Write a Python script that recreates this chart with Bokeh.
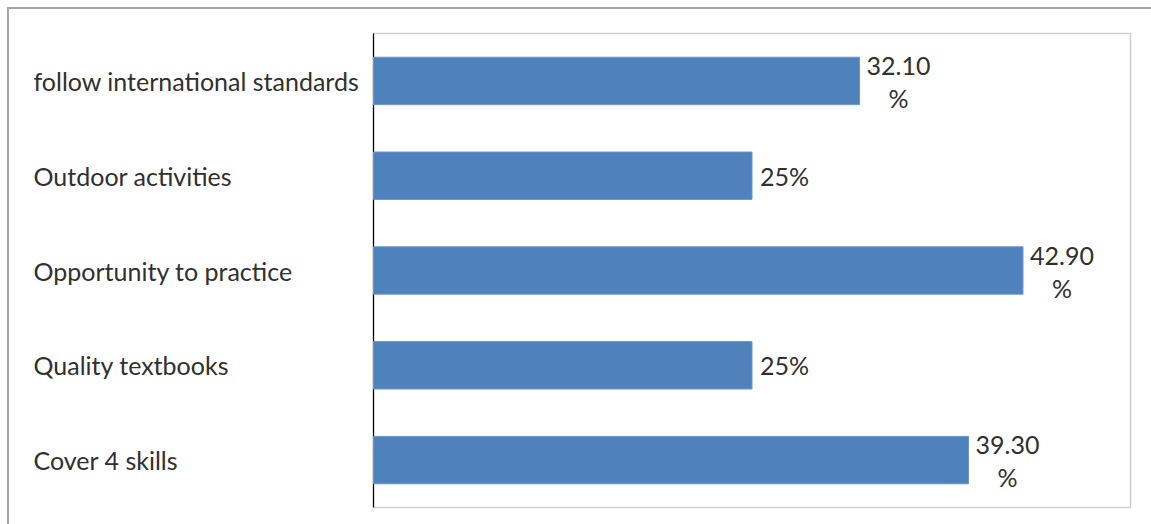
from bokeh.plotting import figure
from bokeh.models import ColumnDataSource, LabelSet, Range1d
from bokeh.core.properties import value
from bokeh.embed import file_html
from bokeh.resources import INLINE

categories = ["follow international standards", "Outdoor activities",
              "Opportunity to practice", "Quality textbooks", "Cover 4 skills"]
values = [32.1, 25.0, 42.9, 25.0, 39.3]
value_labels = ["32.10\n%", "25%", "42.90\n%", "25%", "39.30\n%"]

XMAX = 50.0
FONT = "Lato"
FS = "25px"
TXT = "#303030"

# layout (pixels)
PLOT_W = 757          # width of the value area
PLOT_H = 474          # height of the value area
LEFT_W = 364          # space for category labels, left of the value axis
LABEL_PAD = 340       # category labels start this far left of the axis
PAD = 2               # extra frame pixels so the plot-area border is not clipped

n = len(categories)
ypos = [n - 1 - i for i in range(n)]
ylo, yhi = -0.5, n - 0.5
ux = XMAX / PLOT_W
uy = (yhi - ylo) / PLOT_H
xlo = -LEFT_W * ux

p = figure(frame_width=PLOT_W + LEFT_W + PAD, frame_height=PLOT_H + 2 * PAD,
           output_backend="svg", toolbar_location=None,
           x_range=Range1d(xlo, XMAX + PAD * ux),
           y_range=Range1d(ylo - PAD * uy, yhi + PAD * uy),
           min_border_left=0, min_border_right=21 - PAD,
           min_border_top=24 - PAD, min_border_bottom=17 - PAD,
           margin=(7, 0, 0, 7),
           styles={"border-top": "2px solid #a6a6a6", "border-left": "2px solid #a6a6a6"})
p.background_fill_color = "white"
p.border_fill_color = "white"
p.outline_line_color = None
p.xgrid.visible = False
p.ygrid.visible = False
p.xaxis.visible = False
p.yaxis.visible = False

# plot-area frame and value axis line
p.quad(left=[0], right=[XMAX], bottom=[ylo], top=[yhi], fill_color=None,
       line_color="#d0d0d0", line_width=1.5)
p.segment(x0=[0], y0=[ylo], x1=[0], y1=[yhi], line_color="black", line_width=1.2)

src = ColumnDataSource(dict(y=ypos, v=values, cat=categories))
p.hbar(y="y", right="v", left=0, height=0.5, source=src,
       fill_color="#4F81BD", line_color="#6d96c8", line_width=1)

common = dict(text_font=value(FONT), text_font_size=value(FS), text_color=TXT,
              text_baseline="middle")

p.add_layout(LabelSet(x=0, y="y", text="cat", source=src, x_offset=-LABEL_PAD,
                      text_align="left", **common))

single = dict(x=[], y=[], t=[])
top = dict(x=[], y=[], t=[])
bot = dict(x=[], y=[], t=[])
for yy, v, lab in zip(ypos, values, value_labels):
    parts = lab.split("\n")
    if len(parts) == 1:
        single["x"].append(v); single["y"].append(yy); single["t"].append(parts[0])
    else:
        top["x"].append(v); top["y"].append(yy); top["t"].append(parts[0])
        bot["x"].append(v); bot["y"].append(yy); bot["t"].append(parts[1])

p.add_layout(LabelSet(x="x", y="y", text="t", source=ColumnDataSource(single),
                      x_offset=8, text_align="left", **common))
p.add_layout(LabelSet(x="x", y="y", text="t", source=ColumnDataSource(top),
                      x_offset=39, y_offset=15, text_align="center", **common))
p.add_layout(LabelSet(x="x", y="y", text="t", source=ColumnDataSource(bot),
                      x_offset=39, y_offset=-17, text_align="center", **common))

open("out.html", "w").write(file_html(p, INLINE))
